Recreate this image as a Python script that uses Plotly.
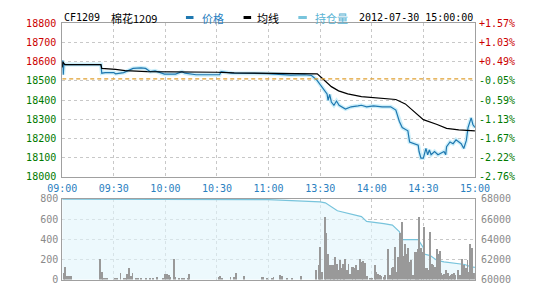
import plotly.graph_objects as go

# ---------------- data ----------------
tick_minutes = [0, 30, 60, 90, 120, 150, 180, 210, 240]
tick_labels = ["09:00", "09:30", "10:00", "10:30", "11:00", "13:30", "14:00", "14:30", "15:00"]

price_min = [0, 0.3, 0.6, 1, 1.6, 22.5, 23, 25, 30, 31, 35.7, 41.2, 45.8, 48.5, 51.2, 54, 59.5, 65.9,
             69.6, 71.4, 77.8, 91.5, 92.4, 98.8, 119, 125, 133, 141, 145, 148, 151, 154, 154.6, 155.5,
             156.5, 158, 159.5, 161, 164.7, 168, 172, 174, 177, 181, 186, 191, 194, 196, 197.7, 201,
             202, 207, 207.5, 208.6, 210, 211.5, 212.5, 213.5, 214.5, 216.5, 218.5, 220.3, 222, 223,
             223.5, 225.5, 227.3, 229, 230.6, 232, 233.5, 235, 236, 237.8, 238.8, 240]
price_val = [18573, 18607, 18532, 18590, 18585, 18585, 18540, 18543, 18543, 18537, 18543, 18565, 18568,
             18565, 18548, 18552, 18535, 18535, 18548, 18540, 18532, 18532, 18548, 18540, 18538, 18535,
             18530, 18532, 18528, 18505, 18465, 18432, 18398, 18430, 18390, 18373, 18395, 18373, 18353,
             18365, 18370, 18373, 18365, 18370, 18365, 18365, 18348, 18290, 18257, 18240, 18182, 18165,
             18132, 18098, 18098, 18148, 18115, 18140, 18115, 18132, 18115, 18123, 18132, 18115, 18157,
             18182, 18173, 18193, 18182, 18173, 18148, 18190, 18257, 18307, 18273, 18257]

avg_min = [0, 0.4, 1, 1.6, 22.5, 23, 31, 36.6, 49.4, 60, 90, 100, 115, 148.3, 151, 154, 156.5, 160.7,
           166, 174, 183, 194, 199.5, 205, 210, 218, 223.5, 230.6, 240]
avg_val = [18570, 18600, 18590, 18585, 18585, 18565, 18560, 18553, 18548, 18548, 18545, 18542, 18540,
           18537, 18515, 18490, 18470, 18448, 18432, 18418, 18410, 18403, 18380, 18335, 18298, 18273,
           18253, 18245, 18240]

ref_price = 18510
price_ticks = [18000, 18100, 18200, 18300, 18400, 18500, 18600, 18700, 18800]
pct_labels = ["-2.76%", "-2.22%", "-1.67%", "-1.13%", "-0.59%", "-0.05%", "+0.49%", "+1.03%", "+1.57%"]

oi_min = [0, 60, 120, 150, 153, 160, 166, 174, 177, 181, 187, 192, 196, 198, 207, 210, 210.5, 214, 218,
          222, 230.6, 234, 237.8, 240]
oi_val = [67980, 67960, 67930, 67710, 67620, 66830, 66570, 66250, 65780, 65710, 65550, 65400, 64760,
          63970, 63970, 63170, 62540, 62380, 61900, 61750, 61590, 61500, 61270, 61210]

vol_min = [1, 2, 3, 4, 5, 22, 23, 24, 25, 26, 31, 32, 34, 36, 37, 38, 39, 40, 41, 43, 44, 46, 49, 51, 53,
           55, 59, 60, 61, 62, 63, 65, 66, 68, 70, 71, 73, 74, 91, 92, 93, 98, 100, 101, 106, 116, 117,
           119, 122, 123, 127, 128, 131, 134, 139,
           147.9, 149.2, 150.1, 151.0, 152.8, 153.7, 154.7, 155.6, 156.5, 157.4, 158.3, 158.9, 159.8,
           160.7, 161.4, 162.5, 163.3, 164.2, 164.7, 165.6, 166.6, 167.5, 168.4, 169.3, 170.2, 171.1,
           172.1, 173.5, 174.3, 175.2, 176.1, 177.5, 179.0, 180.3, 181.8, 182.7, 184.0, 184.9, 185.8,
           187.1, 188.0, 189.4, 190.7, 191.8, 192.7, 193.5, 194.6, 195.5, 196.8, 197.7, 198.6, 199.5,
           200.4, 201.3, 202.3, 203.2, 204.1, 205.0, 205.6, 206.5, 207.2, 207.7, 208.7, 209.6, 210.5,
           211.4, 212.3, 213.2, 214.2, 215.1, 216.0, 216.9, 217.8, 218.7, 219.6, 220.6, 221.5, 222.4,
           223.3, 224.2, 225.1, 226.0, 227.0, 227.9, 228.8, 230.1, 231.5, 232.8, 233.7, 234.7, 235.8,
           236.5, 237.4, 238.3, 239.4]
vol_val = [63, 127, 32, 32, 32, 200, 73, 16, 16, 10, 10, 10, 70, 16, 16, 54, 111, 32, 70, 10, 10, 10, 16,
           16, 16, 22, 16, 57, 57, 48, 22, 200, 22, 10, 10, 16, 16, 54, 22, 32, 16, 22, 22, 63, 32, 22, 22,
           16, 16, 22, 48, 32, 16, 16, 41,
           95, 143, 324, 73, 625, 460, 254, 143, 143, 143, 149, 222, 159, 95, 190, 111, 152, 152, 200,
           95, 159, 54, 127, 127, 117, 149, 95, 200, 175, 181, 168, 32, 16, 16, 143, 79, 54, 48, 32, 22,
           48, 308, 48, 117, 127, 324, 79, 222, 460, 571, 238, 349, 254, 317, 175, 190, 48, 270, 270,
           270, 302, 619, 317, 270, 524, 111, 111, 95, 476, 159, 143, 127, 302, 254, 286, 63, 48, 54, 95,
           63, 41, 48, 54, 63, 48, 95, 48, 206, 143, 111, 190, 79, 349, 317, 63]
vol_ticks = [0, 200, 400, 600, 800]
oi_ticks = [60000, 62000, 64000, 66000, 68000]

# ---------------- styling ----------------
RED = "#cc0000"
GREEN = "#007a00"
BLUE_TXT = "#2a80c0"
GRAY = "#8a8a8a"
FRAME = "#a0a0a0"
GRID = "#c8c8c8"
MONO = "DejaVu Sans Mono"
CJK = "Noto Sans CJK SC"
FS = 10

x0, x1 = 50 / 540, 487 / 540
main_dom = [1 - 178 / 300, 1 - 18 / 300]
low_dom = [1 - 285 / 300, 1 - 201 / 300]


def colored(labels, values, pivot):
    out = []
    for lab, v in zip(labels, values):
        c = RED if v > pivot else GREEN
        out.append(f"<span style='color:{c}'>{lab}</span>")
    return out


fig = go.Figure()

# price halo + line
fig.add_trace(go.Scatter(x=price_min, y=price_val, mode="lines",
                         line=dict(color="#cdeffa", width=4), xaxis="x", yaxis="y", hoverinfo="skip"))
fig.add_trace(go.Scatter(x=price_min, y=price_val, mode="lines",
                         line=dict(color="#1f78b0", width=1.2), xaxis="x", yaxis="y"))
fig.add_trace(go.Scatter(x=avg_min, y=avg_val, mode="lines",
                         line=dict(color="#000000", width=1.2), xaxis="x", yaxis="y"))
# reference line
fig.add_trace(go.Scatter(x=[0, 240], y=[ref_price, ref_price], mode="lines",
                         line=dict(color="#e0a030", width=1.2, dash="4px,3px"), xaxis="x", yaxis="y"))
# dummy for right % axis
fig.add_trace(go.Scatter(x=[0], y=[18400], mode="markers", marker=dict(opacity=0),
                         xaxis="x", yaxis="y3", hoverinfo="skip"))

# open interest (base lower axis, right side) - drawn below the bars
fig.add_trace(go.Scatter(x=oi_min, y=oi_val, mode="lines", fill="tozeroy",
                         fillcolor="rgba(225,245,251,0.6)",
                         line=dict(color="#78c4dc", width=1.2), xaxis="x2", yaxis="y2"))
# volume bars (overlay axis, left side)
fig.add_trace(go.Bar(x=vol_min, y=vol_val, marker=dict(color="#999999", line=dict(width=0)),
                     width=0.55, xaxis="x2", yaxis="y4"))

xcommon = dict(range=[0, 240], domain=[x0, x1], tickmode="array", tickvals=tick_minutes,
               showgrid=True, gridcolor=GRID, griddash="dot", gridwidth=1,
               showline=True, linecolor=FRAME, mirror=True, zeroline=False, fixedrange=True)

fig.update_layout(
    width=540, height=300,
    margin=dict(l=0, r=0, t=0, b=0),
    paper_bgcolor="white", plot_bgcolor="white",
    showlegend=False, bargap=0,
    xaxis=dict(**xcommon, anchor="y", ticktext=tick_labels, showticklabels=True,
               tickfont=dict(family=MONO, size=FS, color=BLUE_TXT), ticks="", ticklabelstandoff=2),
    xaxis2=dict(**xcommon, anchor="y2", ticktext=tick_labels, showticklabels=False, ticks=""),
    yaxis=dict(domain=main_dom, range=[18000, 18800], tickmode="array", tickvals=price_ticks,
               ticktext=colored([str(v) for v in price_ticks], price_ticks, ref_price + 50),
               tickfont=dict(family=MONO, size=FS), showgrid=True, gridcolor=GRID, griddash="dot",
               showline=True, linecolor=FRAME, mirror=True, zeroline=False, ticks="",
               ticklabelstandoff=3, anchor="x"),
    yaxis3=dict(overlaying="y", side="right", range=[18000, 18800], tickmode="array",
                tickvals=price_ticks, ticktext=colored(pct_labels, price_ticks, ref_price + 50),
                tickfont=dict(family=MONO, size=FS), showgrid=False, zeroline=False, ticks="",
                ticklabelstandoff=3, anchor="x"),
    yaxis2=dict(domain=low_dom, side="right", range=[60000, 68000], tickmode="array",
                tickvals=oi_ticks, ticktext=[str(v) for v in oi_ticks],
                tickfont=dict(family=MONO, size=FS, color=GRAY), showgrid=True, gridcolor=GRID,
                griddash="dot", showline=True, linecolor=FRAME, mirror=True, zeroline=False,
                ticks="", ticklabelstandoff=3, anchor="x2"),
    yaxis4=dict(overlaying="y2", side="left", range=[0, 800], tickmode="array", tickvals=vol_ticks,
                ticktext=[str(v) for v in vol_ticks],
                tickfont=dict(family=MONO, size=FS, color=GRAY), showgrid=False, zeroline=False,
                ticks="", ticklabelstandoff=3, anchor="x2"),
)

# header texts
hdr_y = 1 - 12 / 300
fig.add_annotation(x=50 / 540, y=hdr_y, xref="paper", yref="paper", text="CF1209", showarrow=False,
                   xanchor="left", yanchor="middle", font=dict(family=MONO, size=FS, color="#000"))
fig.add_annotation(x=100 / 540, y=hdr_y, xref="paper", yref="paper", text="棉花1209", showarrow=False,
                   xanchor="left", yanchor="middle", font=dict(family=CJK, size=11, color="#000"))
fig.add_annotation(x=196 / 540, y=hdr_y, xref="paper", yref="paper", text="价格", showarrow=False,
                   xanchor="left", yanchor="middle", font=dict(family=CJK, size=11, color=BLUE_TXT))
fig.add_annotation(x=254 / 540, y=hdr_y, xref="paper", yref="paper", text="均线", showarrow=False,
                   xanchor="left", yanchor="middle", font=dict(family=CJK, size=11, color="#000"))
fig.add_annotation(x=316 / 540, y=hdr_y, xref="paper", yref="paper", text="持仓量", showarrow=False,
                   xanchor="left", yanchor="middle", font=dict(family=CJK, size=11, color="#5ab4d4"))
fig.add_annotation(x=487 / 540, y=hdr_y, xref="paper", yref="paper", text="2012-07-30 15:00:00",
                   showarrow=False, xanchor="right", yanchor="middle",
                   font=dict(family=MONO, size=FS, color="#000"))

# legend dashes
for xa, xb, col in [(181, 189, "#1f78b0"), (242, 250, "#000000"), (300, 309, "#78c4dc")]:
    fig.add_shape(type="line", xref="paper", yref="paper", x0=xa / 540, x1=xb / 540,
                  y0=hdr_y, y1=hdr_y, line=dict(color=col, width=3))

fig.write_html("out.html")
